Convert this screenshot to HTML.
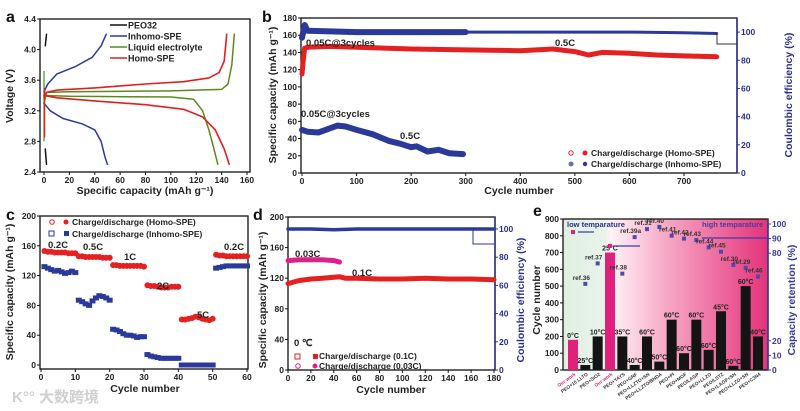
<!DOCTYPE html>
<html><head><meta charset="utf-8"><style>
body{margin:0;background:#fff;}
svg{display:block;font-family:"Liberation Sans",Arial,sans-serif;}
text{font-weight:bold;}
</style></head><body>
<svg id="fig" width="800" height="411" viewBox="0 0 800 411" xmlns="http://www.w3.org/2000/svg">
<defs>
<linearGradient id="eg" x1="0" x2="1" y1="0" y2="0">
<stop offset="0" stop-color="#dff0e2"/><stop offset="0.21" stop-color="#e9f3ea"/>
<stop offset="0.23" stop-color="#fff3f7"/><stop offset="0.5" stop-color="#f7a9c6"/>
<stop offset="1" stop-color="#e4337a"/></linearGradient>
</defs>
<g id="root"></g>
<text x="12" y="402" font-size="15" fill="#cfcfcf" style="font-family:'Liberation Sans','Noto Sans CJK SC',sans-serif">K°° 大数跨境</text>
</svg>
<script>
// ---------- Panel a data ----------
const aHomoChgX=[0,2,10,40,80,110,130,138,142,144];
const aHomoChgY=[3.38,3.44,3.47,3.5,3.55,3.58,3.63,3.7,3.85,4.2];
const aHomoDisX=[0,10,40,80,110,125,135,142,146];
const aHomoDisY=[3.4,3.37,3.33,3.28,3.22,3.12,2.95,2.7,2.5];
const aLiqChgX=[0,2,20,100,140,145,148,150];
const aLiqChgY=[3.3,3.44,3.45,3.46,3.48,3.55,3.8,4.2];
const aLiqDisX=[0,20,100,118,125,130,134,137];
const aLiqDisY=[3.4,3.39,3.38,3.35,3.2,2.95,2.7,2.5];
const aInChgX=[0,3,10,25,38,45,49];
const aInChgY=[3.45,3.55,3.68,3.78,3.9,4.05,4.2];
const aInDisX=[0,5,15,30,40,45,48,50];
const aInDisY=[3.3,3.2,3.1,3.03,2.95,2.8,2.6,2.5];
const aPeoX=[1,2];const aPeoChgY=[4.05,4.2];const aPeoDisY=[2.7,2.5];
const aXTicks=[0,20,40,60,80,100,120,140,160];
const aYTicks=[2.4,2.8,3.2,3.6,4.0,4.4];
// ---------- Panel b data ----------
const bHomoCyc=[0,3,5,10,50,100,150,200,300,400,460,500,525,550,600,650,700,760];
const bHomoCap=[115,135,145,146,147,146,145,144,143,142,144,141,137,140,139,137,136,135];
const bInCyc=[0,10,30,65,80,100,130,160,180,200,210,230,250,270,295];
const bInCap=[50,48,47,55,54,50,45,37,34,30,31,25,27,23,22];
const bCECyc=[0,5,10,100,200,300,400,500,600,700,760];
const bCEVal=[96,105,101,100,100,100,100,100,100,99.5,99];
const bXTicks=[0,100,200,300,400,500,600,700];
const bYTicks=[0,20,40,60,80,100,120,140,160,180];
const bRTicks=[0,20,40,60,80,100];
// ---------- Panel c data ----------
const cHomo=[153,152,152,151,151,151,151,150,150,150,146,146,145,145,145,145,145,144,144,144,134,134,133,133,133,133,133,133,133,132,107,106,106,105,104,104,104,105,105,105,61,61,62,63,65,64,62,61,60,62,148,147,147,146,146,146,146,146,146,146];
const cIn=[132,130,128,126,127,125,123,124,126,124,87,85,82,80,86,90,93,92,90,87,48,47,45,42,40,40,39,37,38,38,14,12,11,10,9,9,9,9,9,9,0,0,0,0,0,0,0,0,0,0,130,131,132,133,133,133,133,133,133,133];
const cXTicks=[0,10,20,30,40,50,60];
const cYTicks=[0,40,80,120,160,200];
// ---------- Panel d data ----------
const dRedCyc=[0,5,10,20,30,45,50,60,80,100,120,140,160,180];
const dRedCap=[113,115,117,119,120,122,120,120,119,119,120,119,119,118];
const dPinkCyc=[0,10,20,30,40,45];
const dPinkCap=[143,144,144,144,143,141];
const dCECyc=[0,20,40,60,100,140,180];
const dCEVal=[100,100,99.5,100,100,100,100];
const dXTicks=[0,20,40,60,80,100,120,140,160,180];
const dYTicks=[0,40,80,120,160,200];
const dRTicks=[0,20,40,60,80,100];
// ---------- Panel e data ----------
const eLabels=["Our work","PEO+10 LLTO","PEO+SiO2","Our work","PEO+YAYS","PEO+GNF","PEO+LLZTO+SN","PEO+LLZTO/BNDA","PEO+PI","PEO+MOF","PEO/LAGP","PEO+LLZO","PEO/LSTZ","PEO+LAGP+SN","PEO+LLZO+SN","PEO+C3N4"];
const eCycles=[180,30,200,700,200,30,200,50,300,100,300,120,350,25,500,200];
const eTemps=["0°C","25°C","10°C","25°C","35°C","40°C","60°C","50°C","60°C","60°C","60°C","60°C","45°C","60°C","60°C","40°C"];
const eRet=[94.5,59,73,85,66,91,96.5,98,92,90,89,84,81,72,70,64];
const eRefs=["","ref.36","ref.37","","ref.38","ref.39a","ref.31","ref.40","ref.41","ref.42","ref.43","ref.44","ref.45","ref.30","ref.29","ref.46"];
const eYTicks=[0,100,200,300,400,500,600,700,800,900];
const eRTicks=[0,10,20,80,90,100];

const NS="http://www.w3.org/2000/svg";
const root=document.getElementById('root');
const TF=8.5, AF=10.5;
function mk(tag,at,parent){const e=document.createElementNS(NS,tag);for(const k in at)e.setAttribute(k,at[k]);(parent||root).appendChild(e);return e;}
function lin(d0,d1,r0,r1){return v=>r0+(v-d0)*(r1-r0)/(d1-d0);}
function txt(x,y,s,size,fill,anchor,parent){const t=mk('text',{x:x,y:y,'font-size':size,fill:fill||'#222','text-anchor':anchor||'start'},parent);t.textContent=s;return t;}
function poly(xs,ys,sx,sy,col,w,parent){const p=xs.map((v,i)=>sx(v).toFixed(1)+','+sy(ys[i]).toFixed(1)).join(' ');return mk('polyline',{points:p,fill:'none',stroke:col,'stroke-width':w,'stroke-linejoin':'round','stroke-linecap':'round'},parent);}
function axes(g,L,T,R,B,sx,sy,xt,yt,fmtY){
  const box=mk('rect',{x:L,y:T,width:R-L,height:B-T,fill:'none',stroke:'#111','stroke-width':1.3},g);
  
  xt.forEach(v=>{mk('line',{x1:sx(v),x2:sx(v),y1:B,y2:B+3,stroke:'#111'},g);const t=txt(sx(v),B+11,String(v),TF,'#222','middle',g);});
  yt.forEach(v=>{mk('line',{x1:L-3,x2:L,y1:sy(v),y2:sy(v),stroke:'#111'},g);const t=txt(L-4,sy(v)+3,fmtY?fmtY(v):String(v),TF,'#222','end',g);});
}
function rAxis(g,R,T,B,sr,rt,col){
  mk('line',{x1:R,x2:R,y1:T,y2:B,stroke:col,'stroke-width':1.5},g);
  rt.forEach(v=>{mk('line',{x1:R,x2:R+3,y1:sr(v),y2:sr(v),stroke:col},g);const t=txt(R+4,sr(v)+3,String(v),TF,col,'start',g);});
}
function vtitle(x,y,s,size,col,g){const t=txt(x,y,s,size,col,'middle',g);t.setAttribute('transform','rotate(-90 '+x+' '+y+')');return t;}
function grp(name){const g=mk('g',{});return g;}

// ================= Panel a =================
(function(){
const g=grp('panel-a');
const L=40,R=250,T=19,B=172;
const sx=lin(0,160,44,247),sy=lin(2.4,4.4,172,19);
axes(g,L,T,R,B,sx,sy,aXTicks,aYTicks,v=>v.toFixed(1));
let l;
l=poly(aLiqChgX,aLiqChgY,sx,sy,'#5a8a1e',1.5,g);
l=poly(aLiqDisX,aLiqDisY,sx,sy,'#5a8a1e',1.5,g);
mk('line',{x1:sx(0),x2:sx(0),y1:sy(3.72),y2:sy(2.8),stroke:'#5a8a1e','stroke-width':1.2},g);
l=poly(aInChgX,aInChgY,sx,sy,'#2b3a9a',1.5,g);
l=poly(aInDisX,aInDisY,sx,sy,'#2b3a9a',1.5,g);
l=poly(aHomoChgX,aHomoChgY,sx,sy,'#e02020',1.6,g);
l=poly(aHomoDisX,aHomoDisY,sx,sy,'#e02020',1.6,g);
mk('line',{x1:sx(0.5),x2:sx(0.5),y1:sy(3.5),y2:sy(2.85),stroke:'#e02020','stroke-width':1.2},g);
l=poly(aPeoX,aPeoChgY,sx,sy,'#111',1.5,g);
l=poly(aPeoX,aPeoDisY,sx,sy,'#111',1.5,g);
const lg=[['PEO32','#111'],['Inhomo-SPE','#2b3a9a'],['Liquid electrolyte','#5a8a1e'],['Homo-SPE','#e02020']];
lg.forEach((e,i)=>{const y=25+i*11;mk('line',{x1:110,x2:127,y1:y,y2:y,stroke:e[1],'stroke-width':1.5},g);const t=txt(128,y+3.5,e[0],9,'#222','start',g);});
let t=txt(6,22,'a',16,'#111','start',g);
t=txt(145,194,'Specific capacity (mAh g⁻¹)',AF,'#222','middle',g);
t=vtitle(13,96,'Voltage (V)',AF,'#222',g);
})();

// ================= Panel b =================
(function(){
const g=grp('panel-b');
const L=301,R=737,T=18,B=173;
const sx=lin(0,700,302,684),sy=lin(0,180,173,18),sr=lin(0,110,173,18);
axes(g,L,T,R,B,sx,sy,bXTicks,bYTicks);
rAxis(g,R,T,B,sr,bRTicks,'#2b2f8c');
let l=poly(bCECyc,bCEVal,sx,sr,'#2b3a9a',3,g);
l=poly(bCECyc.slice(0,6),bCEVal.slice(0,6),sx,sr,'#2b3a9a',6,g);
l=poly(bHomoCyc,bHomoCap,sx,sy,'#e42020',5,g);
l=poly(bInCyc,bInCap,sx,sy,'#2b3a9a',6,g);
mk('polyline',{points:'717,33 717,44 737,44',fill:'none',stroke:'#333','stroke-width':1},g);
let t;
[['0.05C@3cycles',306,46],['0.5C',555,46],['0.05C@3cycles',301,117],['0.5C',400,139]].forEach(a=>{t=txt(a[1],a[2],a[0],9.5,'#222','start',g);});
mk('circle',{cx:571,cy:153,r:2.2,fill:'none',stroke:'#e42020'},g);mk('circle',{cx:585,cy:153,r:2.5,fill:'#e42020'},g);
mk('circle',{cx:571,cy:164,r:2.5,fill:'#6a6fa8'},g);mk('circle',{cx:585,cy:164,r:2.2,fill:'#2b3a9a'},g);
t=txt(591,156,'Charge/discharge (Homo-SPE)',8.5,'#222','start',g);
t=txt(591,167,'Charge/discharge (Inhomo-SPE)',8.5,'#222','start',g);
t=txt(262,22,'b',16,'#111','start',g);
t=txt(519,194,'Cycle number',AF,'#222','middle',g);
t=vtitle(276,95,'Specific capacity (mAh g⁻¹)',AF,'#222',g);
t=vtitle(792,95,'Coulombic efficiency (%)',AF,'#2b2f8c',g);
})();

// ================= Panel c =================
(function(){
const g=grp('panel-c');
const L=40,R=248,T=216,B=369;
const sx=lin(0,60,41,247),sy=lin(0,200,365,216);
axes(g,L,T,R,B,sx,sy,cXTicks,cYTicks);
cIn.forEach((v,i)=>{const r=mk('rect',{x:sx(i+1)-3,y:sy(v)-2.5,width:6,height:5,fill:'#2b3a9a'},g);});
cHomo.forEach((v,i)=>{const r=mk('circle',{cx:sx(i+1),cy:sy(v),r:3,fill:'#e42020'},g);});
let t;
[['0.2C',48,248],['0.5C',83,250],['1C',124,260],['2C',157,289],['5C',197,318],['0.2C',224,250]].forEach(a=>{t=txt(a[1],a[2],a[0],9.5,'#222','start',g);});
mk('circle',{cx:52,cy:222,r:2.3,fill:'none',stroke:'#e42020'},g);mk('circle',{cx:66,cy:222,r:2.5,fill:'#e42020'},g);
mk('rect',{x:49,y:231,width:5,height:5,fill:'none',stroke:'#2b3a9a'},g);mk('rect',{x:64,y:231,width:5,height:5,fill:'#2b3a9a'},g);
t=txt(72,225,'Charge/discharge (Homo-SPE)',8.5,'#222','start',g);
t=txt(72,237,'Charge/discharge (Inhomo-SPE)',8.5,'#222','start',g);
t=txt(6,220,'c',16,'#111','start',g);
t=txt(145,392,'Cycle number',AF,'#222','middle',g);
t=vtitle(13,292,'Specific capacity (mAh g⁻¹)',AF,'#222',g);
})();

// ================= Panel d =================
(function(){
const g=grp('panel-d');
const L=288,R=495,T=217,B=370;
const sx=lin(0,180,288,494),sy=lin(0,200,370,217),sr=lin(0,100,370,229);
axes(g,L,T,R,B,sx,sy,dXTicks,dYTicks);
rAxis(g,R,T,B,sr,dRTicks,'#2b2f8c');
let l=poly(dCECyc,dCEVal,sx,sr,'#2b3a9a',3.5,g);
l=poly(dPinkCyc,dPinkCap,sx,sy,'#e0208a',5,g);
l=poly(dRedCyc,dRedCap,sx,sy,'#e42020',5,g);
mk('polyline',{points:'473,230 473,244 494,244',fill:'none',stroke:'#2b3a9a','stroke-width':1},g);
let t;
[['0.03C',295,257],['0.1C',352,276],['0 ℃',294,346]].forEach(a=>{t=txt(a[1],a[2],a[0],9.5,'#222','start',g);});
mk('rect',{x:295,y:354,width:5,height:5,fill:'none',stroke:'#e42020'},g);mk('rect',{x:313,y:354,width:5,height:5,fill:'#e42020'},g);
mk('circle',{cx:298,cy:366,r:2.3,fill:'none',stroke:'#e0208a'},g);mk('circle',{cx:315,cy:366,r:2.5,fill:'#e0208a'},g);
t=txt(319,359,'Charge/discharge (0.1C)',8.5,'#222','start',g);
t=txt(319,369,'Charge/discharge (0.03C)',8.5,'#222','start',g);
t=txt(253,220,'d',16,'#111','start',g);
t=txt(391,393,'Cycle number',AF,'#222','middle',g);
t=vtitle(266,300,'Specific capacity (mAh g⁻¹)',AF,'#222',g);
t=vtitle(524,300,'Coulombic efficiency (%)',AF,'#2b2f8c',g);
})();

// ================= Panel e =================
(function(){
const g=grp('panel-e');
const L=563,R=768,T=219,B=370;
const sy=lin(0,900,370,219),sr=lin(0,100,370,224);
const bx=i=>573+i*(185/(eLabels.length-1));
const bg=mk('rect',{x:L,y:T,width:R-L,height:B-T,fill:'url(#eg)'},g);
axes(g,L,T,R,B,v=>0,sy,[],eYTicks);
rAxis(g,R,T,B,sr,eRTicks,'#3a3a9a');
eCycles.forEach((v,i)=>{const our=(i===0||i===3);const r=mk('rect',{x:bx(i)-5,y:sy(v),width:10,height:B-sy(v),fill:our?'#e0207a':'#141414'},g);
 const t=txt(bx(i),sy(v)-2,eTemps[i],7,'#222','middle',g);
 const lb=txt(bx(i)+3,B+5,eLabels[i],4.8,our?'#e0207a':'#333','end',g);lb.setAttribute('transform','rotate(-35 '+(bx(i)+3)+' '+(B+5)+')');});
eRet.forEach((v,i)=>{const our=(i===0||i===3);const r=mk('rect',{x:bx(i)-2,y:sr(v)-2,width:4,height:4,fill:our?'#e0207a':'#4a4ab0'},g);
 if(eRefs[i]){const t=txt(bx(i)-4,sr(v)-4,eRefs[i],6.5,'#333','middle',g);}});
mk('line',{x1:578,x2:594,y1:232,y2:232,stroke:'#3a3ab0','stroke-width':1.2},g);
mk('line',{x1:613,x2:640,y1:246,y2:246,stroke:'#3a3ab0','stroke-width':1.2},g);
mk('line',{x1:702,x2:768,y1:238,y2:238,stroke:'#3a3ab0','stroke-width':1.2},g);
let t=txt(567,227,'low temparature',7.5,'#2b2f8c','start',g);
t=txt(702,227,'high temparature',7.5,'#4a3aa0','start',g);
t=txt(533,216,'e',16,'#111','start',g);
t=vtitle(540,300,'Cycle number',AF,'#222',g);
t=vtitle(795,300,'Capacity retention (%)',AF,'#3a3a9a',g);
})();
</script>
</body></html>
